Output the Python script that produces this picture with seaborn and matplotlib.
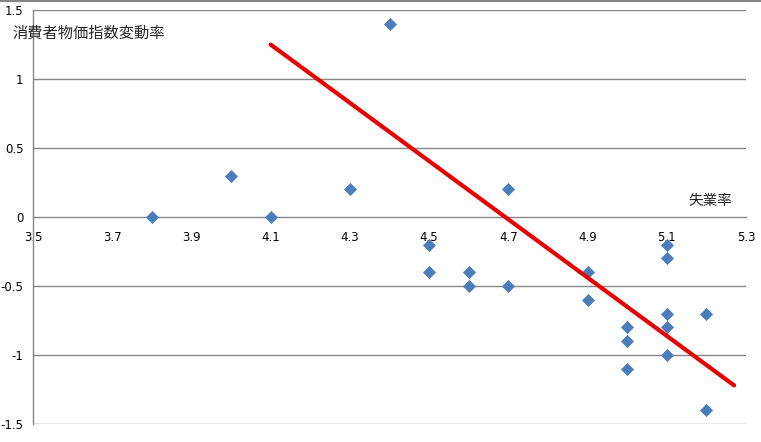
import numpy as np
import pandas as pd
import matplotlib
matplotlib.use("Agg")
import matplotlib.pyplot as plt
import seaborn as sns
from matplotlib.lines import Line2D

# Unemployment rate (x) vs CPI change rate (y)
unemployment = [3.8, 4.0, 4.1, 4.3, 4.4, 4.5, 4.5, 4.6, 4.6, 4.7, 4.7,
                4.9, 4.9, 5.0, 5.0, 5.0, 5.1, 5.1, 5.1, 5.1, 5.1, 5.2, 5.2]
cpi_change = [0.0, 0.3, 0.0, 0.2, 1.4, -0.2, -0.4, -0.4, -0.5, 0.2, -0.5,
              -0.4, -0.6, -0.8, -0.9, -1.1, -0.2, -0.3, -0.7, -0.8, -1.0, -0.7, -1.4]

# trend line end points as drawn in the original
trend_x = [4.1, 5.27]
trend_y = [1.25, -1.22]

x_ticks = [3.5, 3.7, 3.9, 4.1, 4.3, 4.5, 4.7, 4.9, 5.1, 5.3]
y_ticks = [-1.5, -1, -0.5, 0, 0.5, 1, 1.5]
y_label = "消費者物価指数変動率"
x_label = "失業率"

df = pd.DataFrame({"unemployment": unemployment, "cpi": cpi_change})

sns.set_style("white")
plt.rcParams["font.family"] = ["DejaVu Sans", "Noto Sans CJK JP"]

fig = plt.figure(figsize=(7.61, 4.42), dpi=100)
ax = fig.add_axes([0.0434, 0.0407, 0.9369, 0.9365])

grey = "#868686"
for yv in y_ticks:
    if yv != 0:
        ax.axhline(yv, color=grey, lw=1, zorder=0)

sns.scatterplot(data=df, x="unemployment", y="cpi", marker="D", s=38,
                color="#4A7EBB", edgecolor="#4A7EBB", linewidth=0.5, ax=ax, zorder=3)
sns.lineplot(x=trend_x, y=trend_y, color="#E80000", lw=3, ax=ax, zorder=4)

ax.set_xlim(3.5, 5.3)
ax.set_ylim(-1.5, 1.5)
ax.set_xticks(x_ticks)
ax.set_xticklabels([f"{v:g}" for v in x_ticks])
ax.set_yticks(y_ticks)
ax.set_yticklabels([f"{v:g}" for v in y_ticks])
ax.set_xlabel("")
ax.set_ylabel("")

ax.spines["top"].set_visible(False)
ax.spines["right"].set_visible(False)
ax.spines["bottom"].set_position(("data", 0))
for side in ["left", "bottom"]:
    ax.spines[side].set_color(grey)
    ax.spines[side].set_linewidth(1)

ax.tick_params(axis="both", colors=grey, length=4, width=1, labelsize=8.5,
               labelcolor="black")
ax.tick_params(axis="x", direction="out", pad=6)
ax.tick_params(axis="y", direction="out", pad=3)

fig.text(12 / 761, 1 - 33 / 442, y_label, fontsize=11, va="center", ha="left",
         family=["Noto Sans CJK JP", "DejaVu Sans"])
fig.text(732 / 761, 1 - 201 / 442, x_label, fontsize=10.5, va="center", ha="right",
         family=["Noto Sans CJK JP", "DejaVu Sans"])

# thin border line along the top of the chart area
fig.add_artist(Line2D([0, 1], [0.998, 0.998], color=grey, lw=1.5,
                      transform=fig.transFigure))

fig.savefig("out.png", dpi=100)
